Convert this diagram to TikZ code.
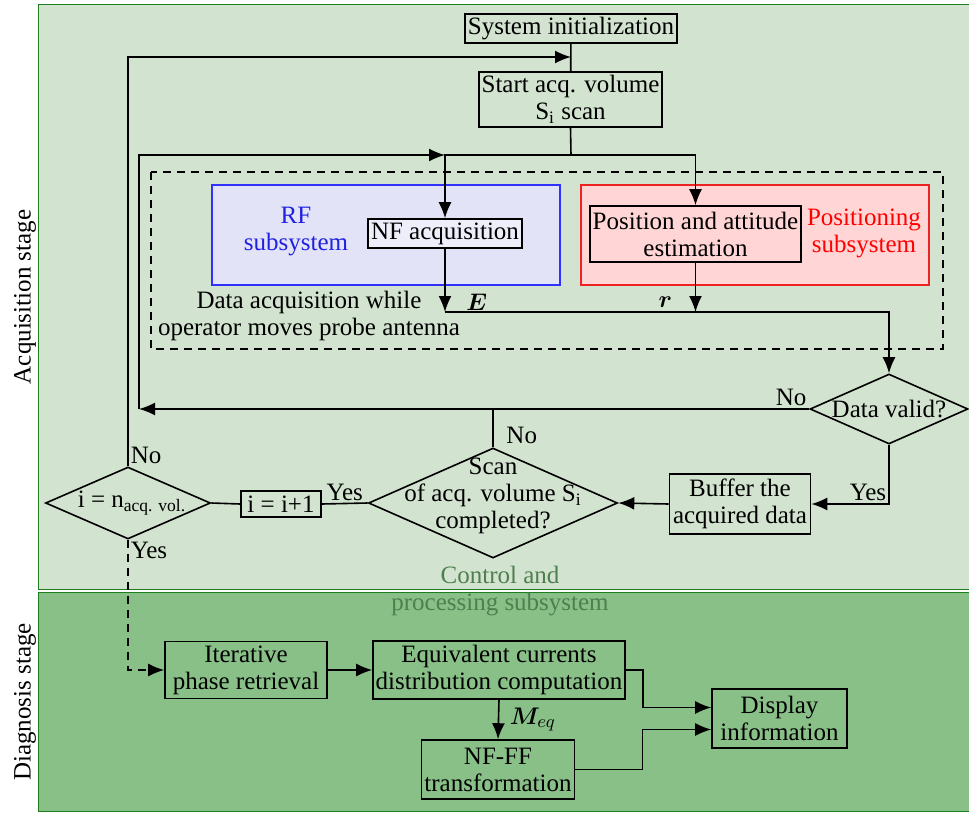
\documentclass[tikz,border=0pt]{standalone}
\usepackage{fontspec}
\setmainfont{Liberation Serif}
\usepackage{bm}
\usetikzlibrary{arrows.meta,shapes.geometric}
\definecolor{acqbg}{HTML}{D2E3CF}
\definecolor{diagbg}{HTML}{88C088}
\definecolor{stageline}{HTML}{1E7E1E}
\definecolor{rfbg}{HTML}{E3E3F8}
\definecolor{rfline}{HTML}{3030FF}
\definecolor{rftext}{HTML}{2020E0}
\definecolor{posbg}{HTML}{FFD5D5}
\definecolor{posline}{HTML}{EE2222}
\definecolor{ctrltext}{HTML}{4F7F4F}
\begin{document}
\begin{tikzpicture}[x=0.5pt,y=-0.5pt,
    font=\fontsize{12.5}{13.5}\selectfont,
    line width=0.8pt,
    box/.style={draw,inner sep=1pt,align=center},
    decision/.style={draw,diamond,inner sep=0pt},
    flow/.style={-{Latex[length=8pt,width=6.5pt]}},
    lbl/.style={inner sep=1pt}]
  \useasboundingbox (0,0) rectangle (969,813);
  \draw[stageline,fill=acqbg,line width=0.5pt] (38,5) rectangle (969,589);
  \draw[stageline,fill=diagbg,line width=0.5pt] (38,592) rectangle (969,811);
  \node[rotate=90] (acqstage) at (25,297) {Acquisition stage};
  \node[rotate=90] (diagstage) at (25,702) {Diagnosis stage};
  \draw[dash pattern=on 4pt off 3pt] (151,172) rectangle (943,349);
  \draw[rfline,fill=rfbg] (212,185) rectangle (560,285);
  \draw[posline,fill=posbg] (581,185) rectangle (929,285);
  \node[rftext,align=center] (rf) at (296,232) {RF\\subsystem};
  \node[red,align=center] (pos) at (864,233) {Positioning\\subsystem};
  \node[align=center] (daq) at (309,316) {Data acquisition while\\operator moves probe antenna};
  \node[ctrltext,align=center] (ctrl) at (500,591) {Control and\\processing subsystem};

  \node[box,minimum width=106pt,minimum height=14.5pt] (init) at (571,28.5) {System initialization};
  \node[box,minimum width=91.5pt,minimum height=27.5pt] (start) at (570.5,99.5) {Start acq. volume\\S\textsubscript{i} scan};
  \node[box,fill=white!40!rfbg,minimum width=77pt,minimum height=14.5pt] (nfacq) at (445,233.5) {NF acquisition};
  \node[box,minimum width=105.5pt,minimum height=28pt] (posest) at (695.5,234) {Position and attitude\\estimation};
  \node[decision,minimum width=79pt,minimum height=35pt,label=center:{Data valid?}] (valid) at (889,409) {};
  \node[box,minimum width=70.5pt,minimum height=30pt] (buffer) at (740,504) {Buffer the\\acquired data};
  \node[decision,minimum width=124.5pt,minimum height=55pt,
    label={[align=center,yshift=3.5pt]center:Scan\\of acq. volume S\textsubscript{i}\\completed?}] (scan) at (493,503) {};
  \node[box,minimum width=40pt,minimum height=13pt] (inc) at (281,504) {i = i+1};
  \node[decision,minimum width=82.5pt,minimum height=36pt,
    label={[xshift=2pt]center:i = n\textsubscript{acq. vol.}}] (last) at (128,503) {};
  \node[box,minimum width=81pt,minimum height=28.5pt] (iter) at (246,670) {Iterative\\phase retrieval};
  \node[box,minimum width=126pt,minimum height=29pt] (equiv) at (499,670) {Equivalent currents\\distribution computation};
  \node[box,minimum width=76.5pt,minimum height=29.5pt] (nfff) at (498,769.5) {NF-FF\\transformation};
  \node[box,minimum width=67.5pt,minimum height=29.5pt] (display) at (779.5,718.5) {Display\\information};

  \coordinate (j1) at (571,57);
  \coordinate (split) at (571,155);
  \coordinate (j2) at (445,155);
  \coordinate (back) at (139,409);
  \coordinate (e) at (445,312);

  \begin{scope}
    \draw (init) to (start);
    \draw[flow] (last.north) node[lbl,above right] {No} |- (j1);
    \draw (start.south) -- (split);
    \draw[flow] (split) -| (posest.north);
    \draw[flow] (split) -| (nfacq.north);
    \draw[flow] (valid.west) node[lbl,above left] {No} -- (back);
    \draw[flow] (back) |- (j2);
    \draw[flow] (nfacq.south) -- node[pos=0.84,right=7pt] {$\bm{E}$} (e);
    \draw[flow] (posest.south) -- node[pos=0.8,left=8pt] {$\bm{r}$} (posest.south |- e);
    \draw[flow] (e) -| (valid.north);
    \draw[flow] (valid.south) |- node[lbl,above left] {Yes} (buffer.east);
    \draw[flow] (buffer.west) -- (scan.east);
    \draw (scan.north) -- node[pos=0.3,right=3pt] {No} (scan.north |- back);
    \draw (scan.west) -- node[lbl,above] {Yes} (inc.east);
    \draw (inc.west) -- (last.east);
    \draw[flow,dash pattern=on 4pt off 3pt] (last.south) node[lbl,below right] {Yes} |- (iter.west);
    \draw[flow] (iter.east) -- (equiv.west);
    \draw[flow] (equiv.south) -- node[right=2pt] {$\bm{M}_{eq}$} (nfff.north);
    \draw[flow] (equiv.east) -- ++(17,0) |- ([yshift=5.5pt]display.west);
    \draw[flow] (nfff.east) -- ++(67,0) |- ([yshift=-5.5pt]display.west);
  \end{scope}
\end{tikzpicture}
\end{document}
